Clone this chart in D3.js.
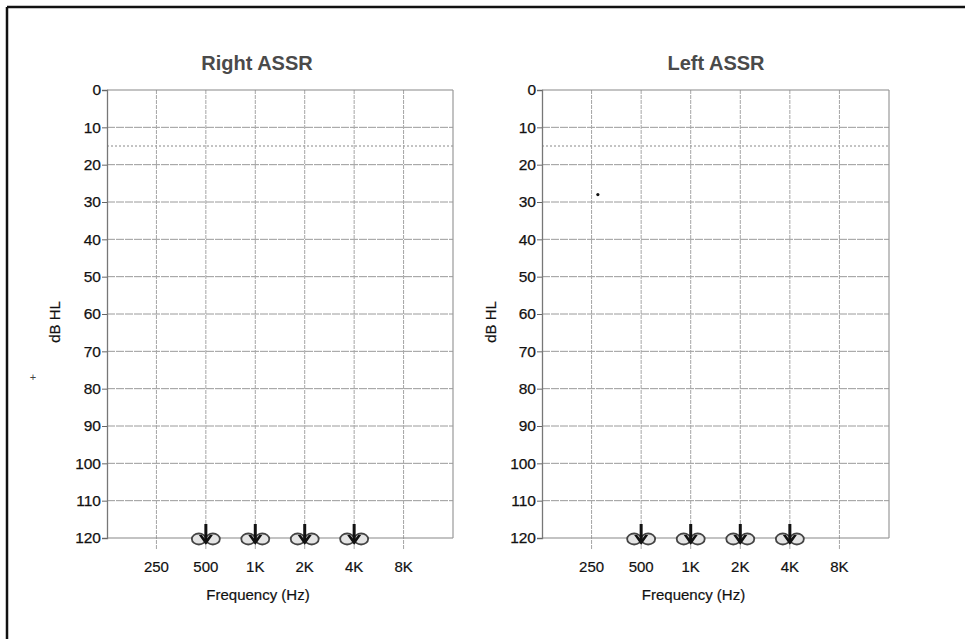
<!DOCTYPE html>
<html>
<head>
<meta charset="utf-8">
<script src="https://cdn.jsdelivr.net/npm/d3@7/dist/d3.min.js"></script>
<style>
  body { margin: 0; background: #fff; }
  svg text { font-family: "Liberation Sans", Arial, sans-serif; }
</style>
</head>
<body>
<div id="chart"></div>
<script>
// tick labels / data
var freqTicks = [250, 500, 1000, 2000, 4000, 8000];
var freqLabels = ["250", "500", "1K", "2K", "4K", "8K"];
var dbTicks = [0, 10, 20, 30, 40, 50, 60, 70, 80, 90, 100, 110, 120];
var panelTitles = ["Right ASSR", "Left ASSR"];

// no response at max level (120 dB HL)
var rightNoResp = [[500, 120], [1000, 120], [2000, 120], [4000, 120]];
var leftNoResp = [[500, 120], [1000, 120], [2000, 120], [4000, 120]];
// stray mark on the left chart
var leftDots = [[273, 28]];

var width = 965, height = 639;

var svg = d3.select("#chart").append("svg")
    .attr("width", width)
    .attr("height", height);

// outer frame (only top and left visible)
svg.append("line").attr("x1", 7).attr("y1", 7).attr("x2", width).attr("y2", 7)
    .attr("stroke", "#111").attr("stroke-width", 2.5);
svg.append("line").attr("x1", 7).attr("y1", 7).attr("x2", 7).attr("y2", height)
    .attr("stroke", "#111").attr("stroke-width", 2.5);

// small stray mark near the right chart
svg.append("text").attr("x", 33).attr("y", 381).attr("text-anchor", "middle")
    .attr("font-size", 11).attr("fill", "#444").text("+");

var panels = [
    {title: panelTitles[0], titleX: 257, x0: 107, x1: 453, points: rightNoResp, dots: [], labelX: 60},
    {title: panelTitles[1], titleX: 716, x0: 542, x1: 889, points: leftNoResp, dots: leftDots, labelX: 496}
];

var y = d3.scaleLinear().domain([0, 120]).range([90, 538]);

panels.forEach(function(p) {
    var x = d3.scaleLog().base(2)
        .domain([125, 16000])
        .range([p.x0, p.x1]);

    var g = svg.append("g");

    // horizontal grid
    g.selectAll(".hgrid")
        .data(dbTicks.slice(1, -1))
        .enter()
        .append("line")
        .attr("x1", p.x0).attr("x2", p.x1)
        .attr("y1", function(d) { return y(d); })
        .attr("y2", function(d) { return y(d); })
        .attr("stroke", "#9a9a9a")
        .attr("stroke-width", 1)
        .attr("stroke-dasharray", "8,1");

    // 15 dB reference line
    g.append("line")
        .attr("x1", p.x0).attr("x2", p.x1)
        .attr("y1", y(15)).attr("y2", y(15))
        .attr("stroke", "#888")
        .attr("stroke-width", 1)
        .attr("stroke-dasharray", "2,2");

    // vertical grid + ticks below the plot
    g.selectAll(".vgrid")
        .data(freqTicks)
        .enter()
        .append("line")
        .attr("x1", function(d) { return x(d); })
        .attr("x2", function(d) { return x(d); })
        .attr("y1", y(0))
        .attr("y2", y(120) + 11)
        .attr("stroke", "#a5a5a5")
        .attr("stroke-width", 1)
        .attr("stroke-dasharray", "4,1");

    // plot border
    g.append("line").attr("x1", p.x0).attr("x2", p.x1).attr("y1", y(0)).attr("y2", y(0))
        .attr("stroke", "#888").attr("stroke-width", 1.2);
    g.append("line").attr("x1", p.x0).attr("x2", p.x1).attr("y1", y(120)).attr("y2", y(120))
        .attr("stroke", "#888").attr("stroke-width", 1.2);
    g.append("line").attr("x1", p.x1).attr("x2", p.x1).attr("y1", y(0)).attr("y2", y(120))
        .attr("stroke", "#999").attr("stroke-width", 1.2);

    // y axis
    var yAxis = d3.axisLeft(y).tickValues(dbTicks).tickSize(5).tickPadding(1);
    var ya = g.append("g")
        .attr("transform", "translate(" + p.x0 + ",0)")
        .call(yAxis);
    ya.select(".domain").attr("stroke", "#777").attr("stroke-width", 1.3);
    ya.selectAll(".tick line").attr("stroke", "#666");
    ya.selectAll(".tick text")
        .attr("font-size", 15.5)
        .attr("fill", "#111")
        .attr("stroke", "#111")
        .attr("stroke-width", 0.25)
        .attr("font-family", "Liberation Sans, Arial, sans-serif");

    // x tick labels
    g.selectAll(".xlab")
        .data(freqTicks)
        .enter()
        .append("text")
        .attr("x", function(d) { return x(d); })
        .attr("y", 572)
        .attr("text-anchor", "middle")
        .attr("font-size", 15)
        .attr("fill", "#111")
        .attr("stroke", "#111")
        .attr("stroke-width", 0.2)
        .text(function(d, i) { return freqLabels[i]; });

    // titles & axis labels
    g.append("text")
        .attr("x", p.titleX)
        .attr("y", 70)
        .attr("text-anchor", "middle")
        .attr("font-size", 20)
        .attr("font-weight", "bold")
        .attr("fill", "#4a4a4a")
        .text(p.title);

    g.append("text")
        .attr("x", (p.x0 + p.x1) / 2 - 22)
        .attr("y", 600)
        .attr("text-anchor", "middle")
        .attr("font-size", 15)
        .attr("fill", "#111")
        .attr("stroke", "#111")
        .attr("stroke-width", 0.2)
        .text("Frequency (Hz)");

    g.append("text")
        .attr("transform", "translate(" + p.labelX + ",322) rotate(-90)")
        .attr("text-anchor", "middle")
        .attr("font-size", 15)
        .attr("fill", "#111")
        .attr("stroke", "#111")
        .attr("stroke-width", 0.2)
        .text("dB HL");

    // no-response symbols
    var sym = g.selectAll(".nr")
        .data(p.points)
        .enter()
        .append("g")
        .attr("transform", function(d) { return "translate(" + x(d[0]) + "," + y(d[1]) + ")"; });

    sym.append("ellipse")
        .attr("cx", -7).attr("cy", 1).attr("rx", 7).attr("ry", 5.5)
        .attr("fill", "#e4e4e4").attr("stroke", "#444").attr("stroke-width", 1.8);
    sym.append("ellipse")
        .attr("cx", 7).attr("cy", 1).attr("rx", 7).attr("ry", 5.5)
        .attr("fill", "#e4e4e4").attr("stroke", "#444").attr("stroke-width", 1.8);
    sym.append("line")
        .attr("x1", 0).attr("x2", 0).attr("y1", -14).attr("y2", 2)
        .attr("stroke", "#111").attr("stroke-width", 3);
    sym.append("path")
        .attr("d", "M-7,-3 L0,7 L7,-3 L4,-3 L0,2 L-4,-3 Z")
        .attr("fill", "#111");

    // stray dots
    g.selectAll(".dot")
        .data(p.dots)
        .enter()
        .append("circle")
        .attr("cx", function(d) { return x(d[0]); })
        .attr("cy", function(d) { return y(d[1]); })
        .attr("r", 1.6)
        .attr("fill", "#111");
});
</script>
</body>
</html>
